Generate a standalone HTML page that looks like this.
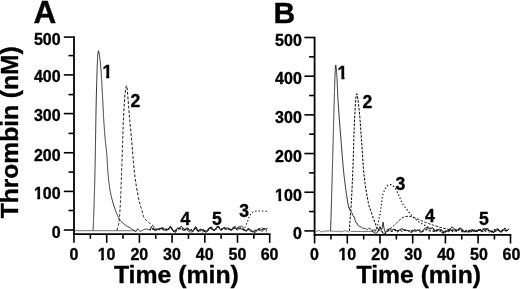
<!DOCTYPE html>
<html><head><meta charset="utf-8"><title>Thrombin generation</title>
<style>html,body{margin:0;padding:0;background:#fff}body{width:520px;height:289px;overflow:hidden}</style>
</head><body>
<svg width="520" height="289" viewBox="0 0 520 289" style="display:block">
<rect width="520" height="289" fill="#fff"/>
<text transform="translate(18.3,218.3) rotate(-90)" textLength="172" lengthAdjust="spacingAndGlyphs" style="font-family:'Liberation Sans',sans-serif;font-weight:bold;font-size:24.4px" stroke="#000" stroke-width="0.35" stroke-linejoin="round">Thrombin (nM)</text>
<g stroke="#000" stroke-width="1.8" fill="none">
<line x1="74.0" y1="36.30" x2="74.0" y2="235.04999999999998"/>
<line x1="73.1" y1="234.2" x2="270.50" y2="234.2"/>
</g>
<g stroke="#000" stroke-width="1.6" fill="none">
<line x1="63.80" y1="230.00" x2="74.0" y2="230.00"/>
<line x1="68.50" y1="210.50" x2="74.0" y2="210.50"/>
<line x1="63.80" y1="191.40" x2="74.0" y2="191.40"/>
<line x1="68.50" y1="172.10" x2="74.0" y2="172.10"/>
<line x1="63.80" y1="152.75" x2="74.0" y2="152.75"/>
<line x1="68.50" y1="133.40" x2="74.0" y2="133.40"/>
<line x1="63.80" y1="113.60" x2="74.0" y2="113.60"/>
<line x1="68.50" y1="94.60" x2="74.0" y2="94.60"/>
<line x1="63.80" y1="74.90" x2="74.0" y2="74.90"/>
<line x1="68.50" y1="55.60" x2="74.0" y2="55.60"/>
<line x1="63.80" y1="37.10" x2="74.0" y2="37.10"/>
<line x1="74.00" y1="234.2" x2="74.00" y2="242.79999999999998"/>
<line x1="90.35" y1="234.2" x2="90.35" y2="238.79999999999998"/>
<line x1="106.70" y1="234.2" x2="106.70" y2="242.79999999999998"/>
<line x1="123.05" y1="234.2" x2="123.05" y2="238.79999999999998"/>
<line x1="139.40" y1="234.2" x2="139.40" y2="242.79999999999998"/>
<line x1="155.75" y1="234.2" x2="155.75" y2="238.79999999999998"/>
<line x1="172.10" y1="234.2" x2="172.10" y2="242.79999999999998"/>
<line x1="188.45" y1="234.2" x2="188.45" y2="238.79999999999998"/>
<line x1="204.80" y1="234.2" x2="204.80" y2="242.79999999999998"/>
<line x1="221.15" y1="234.2" x2="221.15" y2="238.79999999999998"/>
<line x1="237.50" y1="234.2" x2="237.50" y2="242.79999999999998"/>
<line x1="253.85" y1="234.2" x2="253.85" y2="238.79999999999998"/>
<line x1="269.70" y1="234.2" x2="269.70" y2="242.79999999999998"/>
</g>
<g style="font-family:'Liberation Sans',sans-serif;font-weight:bold;font-size:16px" fill="#000" stroke="#000" stroke-width="0.35" stroke-linejoin="round">
<text x="60.60" y="237.75" text-anchor="end">0</text>
<clipPath id="c1"><path d="M30.90 181.55H81.90V202.15H42.75V197.07H40.13V200.15H37.34V197.07H30.90Z"/></clipPath>
<text x="60.60" y="199.15" text-anchor="end" clip-path="url(#c1)">100</text>
<text x="60.60" y="160.80" text-anchor="end">200</text>
<text x="60.60" y="121.35" text-anchor="end">300</text>
<text x="60.60" y="82.25" text-anchor="end">400</text>
<text x="60.60" y="44.85" text-anchor="end">500</text>
<text x="73.90" y="259.65" text-anchor="middle">0</text>
<clipPath id="c2"><path d="M94.70 242.05H145.70V262.65H106.55V257.57H103.93V260.65H101.14V257.57H94.70Z"/></clipPath>
<text x="106.60" y="259.65" text-anchor="middle" clip-path="url(#c2)">10</text>
<text x="139.30" y="259.65" text-anchor="middle">20</text>
<text x="172.00" y="259.65" text-anchor="middle">30</text>
<text x="204.70" y="259.65" text-anchor="middle">40</text>
<text x="237.40" y="259.65" text-anchor="middle">50</text>
<text x="269.60" y="259.65" text-anchor="middle">60</text>
</g>
<text x="33.4" y="22.75" style="font-family:'Liberation Sans',sans-serif;font-weight:bold;font-size:31.5px" stroke="#000" stroke-width="0.35" stroke-linejoin="round">A</text>
<text x="113.9" y="283.10" textLength="125" lengthAdjust="spacingAndGlyphs" style="font-family:'Liberation Sans',sans-serif;font-weight:bold;font-size:24px" stroke="#000" stroke-width="0.35" stroke-linejoin="round">Time (min)</text>
<polyline points="74.9,230.7 135.5,230.7" fill="none" stroke="#111" stroke-width="0.6" stroke-linejoin="round"/>
<polyline points="93.0,230.6 93.1,230.5 93.1,229.5 93.2,228.5 93.2,227.5 93.3,226.5 93.3,225.5 93.3,224.5 93.4,223.5 93.4,222.5 93.5,221.5 93.5,220.5 93.5,219.5 93.6,218.5 93.6,217.5 93.6,216.5 93.7,215.4 93.7,214.4 93.8,213.4 93.8,212.4 93.8,211.4 93.9,210.4 93.9,209.4 93.9,208.4 94.0,207.4 94.0,206.4 94.0,205.4 94.1,204.4 94.1,203.4 94.1,202.4 94.2,201.4 94.2,200.4 94.2,199.4 94.2,198.4 94.3,197.4 94.3,196.4 94.3,195.4 94.4,194.4 94.4,193.4 94.4,192.4 94.5,191.4 94.5,190.4 94.5,189.4 94.5,188.3 94.6,187.3 94.6,186.3 94.6,185.3 94.7,184.3 94.7,183.3 94.7,182.3 94.7,181.3 94.8,180.3 94.8,179.3 94.8,178.3 94.8,177.3 94.9,176.3 94.9,175.3 94.9,174.3 94.9,173.3 94.9,172.3 95.0,171.3 95.0,170.3 95.0,169.3 95.0,168.3 95.1,167.3 95.1,166.3 95.1,165.3 95.1,164.3 95.1,163.3 95.2,162.2 95.2,161.2 95.2,160.2 95.2,159.2 95.2,158.2 95.3,157.2 95.3,156.2 95.3,155.2 95.3,154.2 95.3,153.2 95.3,152.2 95.4,151.2 95.4,150.2 95.4,149.2 95.4,148.2 95.4,147.2 95.4,146.2 95.5,145.2 95.5,144.2 95.5,143.2 95.5,142.2 95.5,141.2 95.5,140.2 95.6,139.2 95.6,138.2 95.6,137.1 95.6,136.1 95.6,135.1 95.6,134.1 95.7,133.1 95.7,132.1 95.7,131.1 95.7,130.1 95.7,129.1 95.7,128.1 95.7,127.1 95.8,126.1 95.8,125.1 95.8,124.1 95.8,123.1 95.8,122.1 95.8,121.1 95.9,120.1 95.9,119.1 95.9,118.1 95.9,117.1 95.9,116.1 96.0,115.1 96.0,114.1 96.0,113.1 96.0,112.0 96.0,111.0 96.0,110.0 96.1,109.0 96.1,108.0 96.1,107.0 96.1,106.0 96.1,105.0 96.2,104.0 96.2,103.0 96.2,102.0 96.2,101.0 96.3,100.0 96.3,99.0 96.3,98.0 96.3,97.0 96.3,96.0 96.4,95.0 96.4,94.0 96.4,93.0 96.4,92.0 96.5,91.0 96.5,90.0 96.5,89.0 96.5,88.0 96.6,86.9 96.6,85.9 96.6,84.9 96.7,83.9 96.7,82.9 96.7,81.9 96.7,80.9 96.8,79.9 96.8,78.9 96.8,77.9 96.9,76.9 96.9,75.9 96.9,74.9 97.0,73.9 97.0,72.9 97.0,71.9 97.1,70.9 97.1,69.9 97.1,68.9 97.2,67.9 97.2,66.9 97.2,65.9 97.3,64.9 97.3,63.9 97.4,62.9 97.4,61.9 97.5,60.9 97.5,59.9 97.6,58.7 97.7,57.5 97.7,56.2 97.8,54.8 97.9,53.6 98.1,52.5 98.2,51.6 98.3,50.9 98.5,50.6 98.6,50.8 98.8,51.8 99.1,53.0 99.3,54.3 99.4,55.3 99.6,56.3 99.7,57.2 99.8,58.2 99.9,59.2 100.1,60.2 100.2,61.2 100.3,62.2 100.4,63.2 100.5,64.2 100.6,65.2 100.7,66.2 100.7,67.2 100.8,68.2 100.9,69.2 101.0,70.2 101.1,71.2 101.1,72.2 101.2,73.2 101.3,74.2 101.3,75.2 101.4,76.3 101.5,77.3 101.5,78.3 101.6,79.3 101.7,80.3 101.7,81.3 101.8,82.3 101.8,83.3 101.9,84.3 101.9,85.3 102.0,86.3 102.1,87.3 102.1,88.3 102.2,89.3 102.2,90.3 102.3,91.3 102.3,92.3 102.4,93.3 102.4,94.3 102.5,95.3 102.5,96.3 102.6,97.3 102.6,98.3 102.7,99.3 102.7,100.3 102.8,101.3 102.8,102.3 102.9,103.3 102.9,104.3 103.0,105.3 103.0,106.3 103.1,107.3 103.1,108.3 103.2,109.3 103.2,110.3 103.3,111.3 103.3,112.4 103.4,113.4 103.4,114.4 103.5,115.4 103.5,116.4 103.6,117.4 103.7,118.4 103.7,119.4 103.8,120.4 103.8,121.4 103.9,122.4 104.0,123.4 104.0,124.4 104.1,125.4 104.2,126.4 104.3,127.4 104.3,128.4 104.4,129.4 104.5,130.4 104.6,131.4 104.7,132.4 104.7,133.4 104.8,134.4 104.9,135.4 105.0,136.4 105.1,137.4 105.2,138.4 105.2,139.4 105.3,140.4 105.4,141.4 105.5,142.4 105.6,143.4 105.7,144.4 105.8,145.4 105.9,146.4 106.1,147.4 106.2,148.4 106.3,149.4 106.4,150.4 106.5,151.4 106.6,152.4 106.7,153.4 106.8,154.4 106.9,155.4 106.9,156.4 107.0,157.4 107.1,158.4 107.1,159.4 107.2,160.4 107.2,161.4 107.3,162.4 107.4,163.4 107.4,164.4 107.5,165.4 107.5,166.4 107.6,167.4 107.6,168.4 107.7,169.4 107.8,170.4 107.9,171.4 107.9,172.4 108.0,173.4 108.1,174.4 108.2,175.4 108.3,176.4 108.4,177.4 108.5,178.4 108.6,179.4 108.7,180.4 108.8,181.4 108.9,182.4 109.1,183.4 109.2,184.4 109.3,185.4 109.5,186.4 109.6,187.4 109.7,188.4 109.9,189.4 110.1,190.4 110.2,191.3 110.4,192.3 110.6,193.3 110.8,194.3 111.0,195.3 111.3,196.3 111.5,197.3 111.7,198.2 112.0,199.2 112.3,200.2 112.5,201.2 112.8,202.1 113.1,203.1 113.4,204.0 113.7,205.0 114.0,206.0 114.3,206.9 114.6,207.9 114.9,208.8 115.3,209.8 115.6,210.7 116.0,211.7 116.3,212.7 116.7,213.6 117.1,214.6 117.5,215.5 117.9,216.4 118.4,217.3 118.9,218.2 119.4,219.0 119.9,219.8 120.4,220.6 121.1,221.3 121.8,222.1 122.5,222.8 123.3,223.4 124.1,224.1 124.9,224.7 125.7,225.3 126.5,225.9 127.4,226.4 128.3,226.9 129.1,227.4 130.0,227.9 130.9,228.4 131.7,229.0 132.6,229.5 133.4,230.1 134.2,230.6 135.1,231.1 136.0,231.6 137.5,228.8 138.1,229.1 138.7,229.9 139.3,230.7 139.9,231.3 140.5,231.3 141.1,231.0 141.7,230.6 142.3,230.5 142.9,230.3 143.5,229.8 144.1,229.4 144.7,229.2 145.3,229.4 145.9,229.2 146.5,229.0 147.1,229.3 147.7,229.3 148.3,229.5 148.9,229.8 149.5,229.7 150.1,229.4 150.7,228.6 151.3,228.0 151.9,228.0 152.5,228.5 153.1,228.9 153.7,229.8 154.3,230.3 154.9,230.6 155.5,230.4 156.1,230.2 156.7,229.8 157.3,229.4 157.9,229.1 158.5,229.0 159.1,228.9 159.7,228.8 160.3,228.8 160.9,228.4 161.5,228.6 162.1,228.7 162.7,228.6 163.3,229.3 163.9,229.4 164.5,229.7 165.1,229.7 165.7,229.5 166.3,229.7 166.9,229.7 167.5,229.7 168.1,229.2 168.7,228.8 169.3,227.8 169.9,227.2 170.5,226.9 171.1,227.5 171.7,228.3 172.3,229.7 172.9,230.7 173.5,231.4 174.1,231.6 174.7,231.1 175.3,230.4 175.9,229.7 176.5,228.7 177.1,228.2 177.7,228.0 178.3,228.1 178.9,227.9 179.5,227.7 180.1,227.3 180.7,226.8 181.3,226.6 181.9,227.2 182.5,227.5 183.1,228.1 183.7,228.7 184.3,229.2 184.9,228.9 185.5,228.4 186.1,228.1 186.7,228.1 187.3,228.0 187.9,228.4 188.5,229.2 189.1,229.5 189.7,230.1 190.3,230.5 190.9,230.8 191.5,231.0 192.1,231.3 192.7,230.9 193.3,230.3 193.9,229.3 194.5,228.2 195.1,227.1 195.7,226.8 196.3,227.5 196.9,229.2 197.5,230.9 198.1,231.8 198.7,231.8 199.3,231.1 199.9,230.5 200.5,230.3 201.1,229.8 201.7,229.4 202.3,229.7 202.9,229.7 203.5,229.9 204.1,230.9 204.7,231.7 205.3,232.1 205.9,232.2 206.5,231.7 207.1,231.1 207.7,230.2 208.3,229.0 208.9,228.5 209.5,228.5 210.1,228.2 210.7,228.6 211.3,228.8 211.9,229.1 212.5,229.6 213.1,230.1 213.7,230.3 214.3,230.1 214.9,229.6 215.5,228.9 216.1,228.0 216.7,227.3 217.3,226.9 217.9,226.8 218.5,227.3 219.1,228.0 219.7,228.9 220.3,229.9 220.9,230.1 221.5,230.0 222.1,229.6 222.7,228.9 223.3,228.3 223.9,227.7 224.5,227.5 225.1,228.1 225.7,228.2 226.3,228.0 226.9,228.2 227.5,228.0 228.1,227.9 228.7,228.3 229.3,228.7 229.9,229.3 230.5,229.3 231.1,229.4 231.7,229.3 232.3,229.1 232.9,228.7 233.5,228.5 234.1,228.4 234.7,228.2 235.3,228.1 235.9,228.4 236.5,228.8 237.1,228.9 237.7,228.6 238.3,227.8 238.9,227.4 239.5,226.7 240.1,226.1 240.7,226.2 241.3,226.4 241.9,226.2 242.5,227.0 243.1,227.8 243.7,228.9 244.3,229.8 244.9,230.5 245.5,230.9 246.1,231.2 246.7,230.9 247.3,230.1 247.9,229.6 248.5,229.7 249.1,229.0 249.7,229.1 250.3,229.5 250.9,229.9 251.5,230.3 252.1,230.7 252.7,231.0 253.3,231.7 253.9,232.1 254.5,232.6 255.1,232.3 255.7,231.6 256.3,231.0 256.9,230.6 257.5,229.6 258.1,228.7 258.7,228.5 259.3,228.5 259.9,229.0 260.5,229.6 261.1,230.7 261.7,231.2 262.3,231.1 262.9,230.8 263.5,230.3 264.1,229.5 264.7,228.8 265.3,228.5 265.9,228.9 266.5,229.0 267.1,228.7 267.7,227.8" fill="none" stroke="#111" stroke-width="0.85" stroke-linejoin="round"/>
<polyline points="117.0,230.3 117.2,229.3 117.5,228.3 117.7,227.4 118.0,226.4 118.2,225.4 118.5,224.4 118.7,223.4 118.9,222.5 119.0,221.5 119.2,220.5 119.2,219.5 119.3,218.5 119.4,217.5 119.5,216.5 119.6,215.5 119.7,214.5 119.7,213.5 119.8,212.5 119.9,211.5 120.0,210.5 120.0,209.5 120.1,208.5 120.1,207.5 120.2,206.5 120.3,205.5 120.3,204.5 120.4,203.5 120.4,202.5 120.5,201.5 120.5,200.5 120.6,199.5 120.6,198.5 120.6,197.5 120.7,196.5 120.7,195.5 120.8,194.5 120.8,193.5 120.8,192.5 120.9,191.4 120.9,190.4 121.0,189.4 121.0,188.4 121.0,187.4 121.1,186.4 121.1,185.4 121.1,184.4 121.2,183.4 121.2,182.4 121.2,181.4 121.3,180.4 121.3,179.4 121.4,178.3 121.4,177.3 121.4,176.3 121.5,175.3 121.5,174.3 121.5,173.3 121.6,172.3 121.6,171.3 121.7,170.3 121.7,169.3 121.7,168.3 121.8,167.3 121.8,166.3 121.9,165.3 121.9,164.3 121.9,163.3 122.0,162.3 122.0,161.3 122.0,160.3 122.1,159.3 122.1,158.3 122.1,157.3 122.2,156.2 122.2,155.2 122.2,154.2 122.3,153.2 122.3,152.2 122.3,151.2 122.4,150.2 122.4,149.2 122.4,148.2 122.5,147.2 122.5,146.2 122.5,145.2 122.6,144.2 122.6,143.2 122.6,142.2 122.6,141.2 122.7,140.2 122.7,139.2 122.7,138.2 122.8,137.2 122.8,136.2 122.8,135.2 122.9,134.2 122.9,133.1 122.9,132.1 123.0,131.1 123.0,130.1 123.1,129.1 123.1,128.1 123.1,127.1 123.2,126.1 123.2,125.1 123.2,124.1 123.3,123.1 123.3,122.1 123.4,121.1 123.4,120.1 123.5,119.1 123.5,118.1 123.5,117.1 123.6,116.1 123.6,115.1 123.7,114.1 123.7,113.1 123.8,112.1 123.9,111.1 123.9,110.1 124.0,109.1 124.0,108.1 124.1,107.1 124.2,106.0 124.2,105.0 124.3,104.0 124.4,103.0 124.4,102.0 124.5,101.0 124.6,100.0 124.7,99.0 124.8,98.0 124.8,97.0 124.9,96.0 125.0,95.0 125.1,94.0 125.2,93.0 125.3,92.0 125.4,91.0 125.6,90.0 125.7,89.0 125.9,87.9 126.1,86.6 126.4,85.7 126.6,85.7 126.8,86.6 127.0,87.8 127.2,89.0 127.3,90.0 127.4,91.0 127.5,92.0 127.6,93.0 127.7,94.0 127.7,95.0 127.8,96.0 127.9,97.0 128.0,98.0 128.0,99.0 128.1,100.0 128.2,101.0 128.3,102.0 128.3,103.1 128.4,104.1 128.5,105.1 128.6,106.1 128.7,107.1 128.7,108.1 128.8,109.1 128.9,110.1 129.0,111.1 129.1,112.1 129.2,113.1 129.2,114.1 129.3,115.1 129.4,116.1 129.5,117.1 129.6,118.1 129.7,119.1 129.8,120.1 129.8,121.1 129.9,122.1 130.0,123.1 130.1,124.1 130.2,125.1 130.3,126.1 130.4,127.1 130.5,128.1 130.6,129.1 130.7,130.1 130.8,131.1 130.9,132.1 131.0,133.1 131.1,134.1 131.2,135.1 131.2,136.1 131.3,137.1 131.4,138.1 131.5,139.1 131.6,140.1 131.7,141.1 131.8,142.1 131.9,143.1 132.0,144.1 132.0,145.1 132.1,146.1 132.2,147.1 132.3,148.1 132.4,149.1 132.4,150.1 132.5,151.1 132.6,152.1 132.7,153.1 132.8,154.1 132.8,155.1 132.9,156.1 133.0,157.1 133.1,158.1 133.2,159.1 133.3,160.1 133.3,161.1 133.4,162.1 133.5,163.1 133.6,164.1 133.7,165.1 133.8,166.1 133.9,167.1 134.0,168.1 134.1,169.1 134.2,170.1 134.3,171.1 134.4,172.1 134.5,173.1 134.6,174.1 134.8,175.1 134.9,176.1 135.0,177.1 135.2,178.1 135.3,179.1 135.4,180.1 135.6,181.1 135.7,182.1 135.9,183.1 136.0,184.1 136.2,185.1 136.3,186.1 136.5,187.0 136.7,188.0 136.8,189.0 137.0,190.0 137.2,191.0 137.4,192.0 137.5,193.0 137.7,194.0 137.9,195.0 138.1,195.9 138.3,196.9 138.5,197.9 138.7,198.9 138.9,199.9 139.2,200.9 139.4,201.8 139.6,202.8 139.9,203.8 140.1,204.8 140.4,205.7 140.7,206.7 141.1,207.6 141.4,208.6 141.7,209.5 142.0,210.5 142.3,211.5 142.5,212.5 142.7,213.5 143.0,214.5 143.2,215.4 143.5,216.4 143.9,217.2 144.4,218.0 145.0,218.8 145.7,219.6 146.4,220.4 147.2,221.1 147.9,221.8 148.7,222.4 149.5,223.1 150.3,223.6 151.2,224.2 152.0,224.7 152.8,225.3 153.5,226.0 154.2,226.7 154.9,227.5 155.5,228.3 156.5,229.2 157.1,229.6 157.7,230.0 158.3,230.0 158.9,230.4 159.5,229.9 160.1,228.8 160.7,227.9 161.3,227.1 161.9,227.0 162.5,227.6 163.1,228.2 163.7,229.0 164.3,229.6 164.9,230.1 165.5,230.1 166.1,230.1 166.7,229.7 167.3,229.4 167.9,228.8 168.5,228.4 169.1,227.5 169.7,227.0 170.3,226.8 170.9,227.0 171.5,228.1 172.1,229.4 172.7,230.2 173.3,231.1 173.9,231.7 174.5,232.1 175.1,231.8 175.7,231.4 176.3,230.6 176.9,229.8 177.5,229.2 178.1,228.8 178.7,228.8 179.3,228.6 179.9,228.7 180.5,228.9 181.1,229.3 181.7,229.3 182.3,229.7 182.9,230.1 183.5,230.5 184.1,230.3 184.7,230.2 185.3,229.4 185.9,229.4 186.5,229.1 187.1,228.8 187.7,229.1 188.3,229.3 188.9,229.1 189.5,229.1 190.1,229.3 190.7,229.4 191.3,229.8 191.9,230.4 192.5,231.1 193.1,231.2 193.7,230.8 194.3,229.9 194.9,229.0 195.5,228.0 196.1,228.0 196.7,228.7 197.3,230.3 197.9,230.9 198.5,231.0 199.1,230.2 199.7,229.5 200.3,229.3 200.9,229.4 201.5,229.7 202.1,230.4 202.7,231.2 203.3,231.2 203.9,231.1 204.5,230.8 205.1,230.5 205.7,230.6 206.3,230.4 206.9,230.2 207.5,229.8 208.1,229.0 208.7,228.3 209.3,227.6 209.9,226.8 210.5,226.8 211.1,226.6 211.7,227.2 212.3,228.0 212.9,229.2 213.5,230.2 214.1,230.8 214.7,230.6 215.3,229.8 215.9,228.7 216.5,227.6 217.1,227.1 217.7,226.9 218.3,227.0 218.9,227.4 219.5,228.4 220.1,228.9 220.7,229.4 221.3,229.7 221.9,229.2 222.5,229.0 223.1,228.4 223.7,228.3 224.3,227.9 224.9,228.3 225.5,228.3 226.1,228.3 226.7,228.6 227.3,228.6 227.9,228.6 228.5,228.7 229.1,229.0 229.7,229.1 230.3,229.1 230.9,229.0 231.5,228.6 232.1,228.3 232.7,227.9 233.3,227.3 233.9,227.0 234.5,226.9 235.1,227.3 235.7,228.2 236.3,229.0 236.9,230.0 237.5,230.4 238.1,230.4 238.7,229.5 239.3,228.9 239.9,228.4 240.5,228.3 241.1,228.5 241.7,228.8 242.3,229.2 242.9,229.4 243.5,229.9 244.1,229.9 244.7,230.3 245.3,230.2 245.9,230.2 246.5,229.6 247.1,229.4 247.7,229.0 248.3,229.0 248.9,229.2 249.5,229.8 250.1,230.6 250.7,231.3 251.3,231.5 251.9,231.3 252.5,230.9 253.1,230.6 253.7,230.3 254.3,229.9 254.9,230.2 255.5,230.2 256.1,230.3 256.7,230.6 257.3,230.7 257.9,230.5 258.5,230.1 259.1,229.6 259.7,228.8 260.3,228.0 260.9,227.8 261.5,227.6 262.1,227.6 262.7,228.2 263.3,228.4 263.9,228.9 264.5,229.1 265.1,229.2 265.7,229.7 266.3,230.3 266.9,230.1" fill="none" stroke="#111" stroke-width="1.0" stroke-dasharray="2.8 1.8" stroke-linejoin="round"/>
<polyline points="150.0,230.4 150.6,229.4 151.2,229.2 151.8,228.7 152.4,228.7 153.0,228.9 153.6,229.0 154.2,229.5 154.8,229.5 155.4,229.9 156.0,229.5 156.6,229.2 157.2,229.1 157.8,229.0 158.4,228.9 159.0,228.9 159.6,229.0 160.2,228.9 160.8,229.0 161.4,228.9 162.0,228.9 162.6,229.1 163.2,229.0 163.8,228.9 164.4,229.1 165.0,229.4 165.6,229.8 166.2,229.9 166.8,230.2 167.4,230.5 168.0,230.1 168.6,229.6 169.2,228.9 169.8,228.2 170.4,227.8 171.0,228.2 171.6,228.6 172.2,229.9 172.8,230.6 173.4,231.1 174.0,231.5 174.6,231.5 175.2,231.0 175.8,230.4 176.4,229.8 177.0,229.2 177.6,228.9 178.2,228.6 178.8,228.6 179.4,228.8 180.0,228.7 180.6,228.6 181.2,228.8 181.8,229.1 182.4,229.3 183.0,229.6 183.6,230.0 184.2,229.9 184.8,230.1 185.4,229.7 186.0,229.1 186.6,228.9 187.2,228.7 187.8,229.0 188.4,228.9 189.0,229.3 189.6,229.7 190.2,229.8 190.8,229.5 191.4,229.5 192.0,229.5 192.6,229.3 193.2,229.6 193.8,229.3 194.4,229.4 195.0,229.0 195.6,229.1 196.2,229.3 196.8,229.9 197.4,230.5 198.0,231.1 198.6,230.7 199.2,230.2 199.8,229.7 200.4,229.4 201.0,229.2 201.6,229.3 202.2,229.5 202.8,229.9 203.4,229.7 204.0,229.9 204.6,230.1 205.2,230.5 205.8,231.0 206.4,231.3 207.0,231.4 207.6,231.3 208.2,230.8 208.8,229.8 209.4,228.7 210.0,227.9 210.6,227.5 211.2,227.6 211.8,228.2 212.4,228.7 213.0,229.5 213.6,230.0 214.2,230.3 214.8,230.1 215.4,229.9 216.0,229.3 216.6,228.9 217.2,228.1 217.8,227.8 218.4,227.4 219.0,227.3 219.6,227.2 220.2,227.9 220.8,228.3 221.4,228.3 222.0,228.6 222.6,228.7 223.2,228.8 223.8,228.9 224.4,229.3 225.0,229.3 225.6,229.6 226.2,229.5 226.8,229.5 227.4,229.1 228.0,229.0 228.6,228.8 229.2,229.2 229.8,229.5 230.4,230.1 231.0,230.1 231.6,229.7 232.2,229.1 232.8,228.6 233.4,228.1 234.0,227.9 234.6,228.2 235.2,228.7 235.8,228.9 236.4,229.2 237.0,229.1 237.6,228.8 238.2,228.6 238.8,228.3 239.4,228.3 240.0,228.7 240.6,229.2 241.2,229.6 241.8,229.6 242.4,229.8 243.0,229.8 244.6,228.3 245.0,227.3 245.4,226.4 245.8,225.4 246.3,224.5 246.7,223.5 247.1,222.5 247.5,221.6 247.9,220.6 248.2,219.6 248.6,218.5 249.0,217.5 249.4,216.6 249.8,215.6 250.3,214.8 250.9,214.0 251.7,213.1 252.5,212.3 253.4,211.6 254.3,211.2 255.2,211.1 256.2,211.1 257.3,211.0 258.3,211.0 259.4,211.0 260.5,211.0 261.5,211.0 262.6,211.0 263.6,211.1 264.7,211.1 265.7,211.2 266.8,211.2 267.8,211.3" fill="none" stroke="#111" stroke-width="1.05" stroke-dasharray="1.4 2.0" stroke-linejoin="round"/>
<polyline points="150.0,229.5 150.6,228.4 151.2,227.1 151.8,226.0 152.4,226.1 153.0,226.7 153.6,227.9 154.2,229.0 154.8,229.9 155.4,229.9 156.0,230.1 156.6,229.6 157.2,229.1 157.8,229.2 158.4,229.2 159.0,228.9 159.6,228.9 160.2,228.4 160.8,228.1 161.4,227.9 162.0,228.0 162.6,228.2 163.2,228.3 163.8,228.2 164.4,228.4 165.0,228.2 165.6,228.3 166.2,228.5 166.8,228.9 167.4,229.2 168.0,229.2 168.6,228.9 169.2,228.2 169.8,227.6 170.4,227.3 171.0,227.3 171.6,228.1 172.2,229.0 172.8,230.2 173.4,230.5 174.0,230.9 174.6,231.2 175.2,231.0 175.8,230.3 176.4,229.7 177.0,228.8 177.6,228.3 178.2,228.3 178.8,228.6 179.4,228.8 180.0,228.6 180.6,228.5 181.2,228.3 181.8,228.4 182.4,228.5 183.0,228.9 183.6,229.2 184.2,229.6 184.8,229.6 185.4,229.7 186.0,229.9 186.6,230.0 187.2,230.4 187.8,230.7 188.4,231.3 189.0,231.5 189.6,231.9 190.2,232.2 190.8,232.1 191.4,232.3 192.0,232.3 192.6,231.8 193.2,230.9 193.8,229.9 194.4,228.7 195.0,227.7 195.6,226.9 196.2,227.2 196.8,228.2 197.4,229.5 198.0,230.5 198.6,230.5 199.2,230.5 199.8,230.7 200.4,231.0 201.0,231.6 201.6,231.9 202.2,232.2 202.8,232.0 203.4,231.6 204.0,231.5 204.6,231.5 205.2,231.9 205.8,232.1 206.4,232.3 207.0,232.0 207.6,231.3 208.2,230.2 208.8,229.0 209.4,228.0 210.0,227.9 210.6,227.9 211.2,228.4 211.8,229.0 212.4,229.6 213.0,230.2 213.6,230.7 214.2,230.5 214.8,229.8 215.4,228.7 216.0,227.6 216.6,226.8 217.2,226.4 217.8,226.2 218.4,226.4 219.0,227.1 219.6,228.3 220.2,228.8 220.8,229.8 221.4,230.0 222.0,229.5 222.6,229.1 223.2,228.3 223.8,227.8 224.4,227.7 225.0,227.8 225.6,228.7 226.2,229.1 226.8,229.2 227.4,229.1 228.0,229.1 228.6,229.3 229.2,229.4 229.8,229.8 230.4,230.1 231.0,230.2 231.6,230.0 232.2,229.6 232.8,229.0 233.4,228.0 234.0,227.1 234.6,226.9 235.2,227.0 235.8,227.5 236.4,228.3 237.0,228.8 237.6,227.9 238.2,227.2 238.8,226.4 239.4,226.3 240.0,227.2 240.6,228.5 241.2,229.0 241.8,229.0 242.4,229.0 243.0,228.5 243.6,228.6 244.2,229.2 244.8,229.9 245.4,230.7 246.0,231.0 246.6,230.9 247.2,230.5 247.8,230.0 248.4,229.7 249.0,229.7 249.6,230.1 250.2,230.7 250.8,231.5 251.4,231.5 252.0,231.7 252.6,231.8 253.2,231.3 253.8,231.6 254.4,231.1 255.0,230.9 255.6,230.8 256.2,230.4 256.8,230.0 257.4,229.6 258.0,229.6 258.6,229.7 259.2,230.1 259.8,230.1 260.4,230.2 261.0,229.8 261.6,229.3 262.2,229.4 262.8,228.9 263.4,228.7 264.0,228.6 264.6,228.8 265.2,228.7 265.8,229.4 266.4,229.9 267.0,229.8" fill="none" stroke="#111" stroke-width="0.8" stroke-dasharray="4 1.2" stroke-linejoin="round"/>
<polyline points="152.0,229.7 152.6,229.5 153.2,229.4 153.8,229.7 154.4,229.7 155.0,229.7 155.6,230.2 156.2,230.0 156.8,229.6 157.4,229.5 158.0,229.2 158.6,229.0 159.2,228.8 159.8,228.5 160.4,228.3 161.0,228.6 161.6,228.8 162.2,229.2 162.8,229.5 163.4,229.9 164.0,230.6 164.6,230.6 165.2,230.9 165.8,230.8 166.4,230.8 167.0,230.6 167.6,230.3 168.2,229.6 168.8,228.6 169.4,227.5 170.0,227.0 170.6,226.5 171.2,226.9 171.8,227.7 172.4,229.0 173.0,230.3 173.6,231.0 174.2,231.8 174.8,232.2 175.4,232.5 176.0,232.0 176.6,231.3 177.2,230.7 177.8,230.4 178.4,229.7 179.0,229.1 179.6,228.6 180.2,227.5 180.8,226.7 181.4,226.3 182.0,226.8 182.6,227.5 183.2,228.3 183.8,229.1 184.4,230.0 185.0,230.4 185.6,230.1 186.2,229.4 186.8,229.2 187.4,229.2 188.0,229.4 188.6,229.8 189.2,230.2 189.8,230.6 190.4,230.9 191.0,231.1 191.6,231.3 192.2,231.4 192.8,231.6 193.4,231.2 194.0,230.4 194.6,229.4 195.2,228.5 195.8,228.1 196.4,228.7 197.0,229.7 197.6,230.7 198.2,230.8 198.8,230.8 199.4,230.4 200.0,230.0 200.6,229.8 201.2,229.8 201.8,230.0 202.4,230.3 203.0,230.1 203.6,230.4 204.2,230.3 204.8,230.7 205.4,230.7 206.0,231.0 206.6,230.9 207.2,230.5 207.8,229.5 208.4,228.8 209.0,228.1 209.6,228.0 210.2,228.0 210.8,228.3 211.4,228.8 212.0,229.0 212.6,229.4 213.2,229.7 213.8,229.8 214.4,229.6 215.0,229.3 215.6,228.6 216.2,228.3 216.8,227.6 217.4,227.4 218.0,227.1 218.6,227.4 219.2,228.0 219.8,229.0 220.4,229.6 221.0,230.1 221.6,229.7 222.2,229.4 222.8,228.4 223.4,227.6 224.0,227.3 224.6,227.7 225.2,228.2 225.8,229.0 226.4,229.4 227.0,229.8 227.6,229.9 228.2,229.5 228.8,229.4 229.4,229.3 230.0,229.2 230.6,229.6 231.2,230.0 231.8,229.8 232.4,230.0 233.0,229.2 233.6,228.3 234.2,227.3 234.8,226.4 235.4,226.2 236.0,226.8 236.6,227.2 237.2,227.9 237.8,228.1 238.4,228.2 239.0,228.4 239.6,228.3 240.2,228.4 240.8,228.6 241.4,229.2 242.0,229.4 242.6,229.4 243.2,229.9 243.8,230.0 244.4,230.3 245.0,230.5 245.6,230.6 246.2,230.4 246.8,230.0 247.4,229.7 248.0,229.0 248.6,228.5 249.2,228.7 249.8,229.1 250.4,229.9 251.0,230.8 251.6,231.0 252.2,231.1 252.8,231.2 253.4,231.6 254.0,231.7 254.6,232.0 255.2,232.0 255.8,231.8 256.4,231.3 257.0,230.7 257.6,230.5 258.2,230.4 258.8,230.4 259.4,230.5 260.0,230.3 260.6,230.3 261.2,230.1 261.8,229.7 262.4,229.5 263.0,229.0 263.6,229.2 264.2,228.8 264.8,229.8 265.4,230.5 266.0,231.5 266.6,232.3 267.2,231.9" fill="none" stroke="#111" stroke-width="0.75" stroke-dasharray="5 1.5 1.2 1.5" stroke-linejoin="round"/>
<g style="font-family:'Liberation Sans',sans-serif;font-weight:bold;font-size:17.6px" fill="#000" stroke="#000" stroke-width="0.35" stroke-linejoin="round">
<clipPath id="c3"><path d="M99.40 58.84H155.20V81.20H112.14V75.95H109.22V79.20H106.21V75.95H99.40Z"/></clipPath>
<text x="102.4" y="78.2" clip-path="url(#c3)">1</text>
<text x="130.6" y="107.3">2</text>
<text x="239.2" y="216.8">3</text>
<text x="180.6" y="224.8">4</text>
<text x="212.0" y="224.8">5</text>
</g>
<g stroke="#000" stroke-width="1.8" fill="none">
<line x1="314.6" y1="36.70" x2="314.6" y2="235.75"/>
<line x1="313.70000000000005" y1="234.9" x2="511.30" y2="234.9"/>
</g>
<g stroke="#000" stroke-width="1.6" fill="none">
<line x1="304.40" y1="230.90" x2="314.6" y2="230.90"/>
<line x1="309.10" y1="211.56" x2="314.6" y2="211.56"/>
<line x1="304.40" y1="192.22" x2="314.6" y2="192.22"/>
<line x1="309.10" y1="172.88" x2="314.6" y2="172.88"/>
<line x1="304.40" y1="153.54" x2="314.6" y2="153.54"/>
<line x1="309.10" y1="134.20" x2="314.6" y2="134.20"/>
<line x1="304.40" y1="114.86" x2="314.6" y2="114.86"/>
<line x1="309.10" y1="95.52" x2="314.6" y2="95.52"/>
<line x1="304.40" y1="76.18" x2="314.6" y2="76.18"/>
<line x1="309.10" y1="56.84" x2="314.6" y2="56.84"/>
<line x1="304.40" y1="37.50" x2="314.6" y2="37.50"/>
<line x1="314.60" y1="234.9" x2="314.60" y2="243.5"/>
<line x1="330.95" y1="234.9" x2="330.95" y2="239.5"/>
<line x1="347.30" y1="234.9" x2="347.30" y2="243.5"/>
<line x1="363.65" y1="234.9" x2="363.65" y2="239.5"/>
<line x1="380.00" y1="234.9" x2="380.00" y2="243.5"/>
<line x1="396.35" y1="234.9" x2="396.35" y2="239.5"/>
<line x1="412.70" y1="234.9" x2="412.70" y2="243.5"/>
<line x1="429.05" y1="234.9" x2="429.05" y2="239.5"/>
<line x1="445.40" y1="234.9" x2="445.40" y2="243.5"/>
<line x1="461.75" y1="234.9" x2="461.75" y2="239.5"/>
<line x1="478.10" y1="234.9" x2="478.10" y2="243.5"/>
<line x1="494.45" y1="234.9" x2="494.45" y2="239.5"/>
<line x1="510.50" y1="234.9" x2="510.50" y2="243.5"/>
</g>
<g style="font-family:'Liberation Sans',sans-serif;font-weight:bold;font-size:16px" fill="#000" stroke="#000" stroke-width="0.35" stroke-linejoin="round">
<text x="301.80" y="239.15" text-anchor="end">0</text>
<clipPath id="c4"><path d="M272.10 183.17H323.10V203.77H283.95V198.69H281.33V201.77H278.54V198.69H272.10Z"/></clipPath>
<text x="301.80" y="200.77" text-anchor="end" clip-path="url(#c4)">100</text>
<text x="301.80" y="161.79" text-anchor="end">200</text>
<text x="301.80" y="122.71" text-anchor="end">300</text>
<text x="301.80" y="83.93" text-anchor="end">400</text>
<text x="301.80" y="46.45" text-anchor="end">500</text>
<text x="314.50" y="260.2" text-anchor="middle">0</text>
<clipPath id="c5"><path d="M335.48 242.60H386.48V263.20H347.33V258.12H344.71V261.20H341.92V258.12H335.48Z"/></clipPath>
<text x="347.38" y="260.2" text-anchor="middle" clip-path="url(#c5)">10</text>
<text x="380.27" y="260.2" text-anchor="middle">20</text>
<text x="413.15" y="260.2" text-anchor="middle">30</text>
<text x="446.03" y="260.2" text-anchor="middle">40</text>
<text x="478.92" y="260.2" text-anchor="middle">50</text>
<text x="511.50" y="260.2" text-anchor="middle">60</text>
</g>
<text x="273.5" y="22.75" style="font-family:'Liberation Sans',sans-serif;font-weight:bold;font-size:30px" stroke="#000" stroke-width="0.35" stroke-linejoin="round">B</text>
<text x="356.6" y="283.30" textLength="124.4" lengthAdjust="spacingAndGlyphs" style="font-family:'Liberation Sans',sans-serif;font-weight:bold;font-size:24px" stroke="#000" stroke-width="0.35" stroke-linejoin="round">Time (min)</text>
<polyline points="372.0,230.1 372.6,230.2 373.2,230.1 373.8,230.1 374.4,229.9 375.0,230.1 375.6,230.0 376.2,229.9 376.8,230.0 377.4,229.9 378.0,229.8 378.6,229.7 379.2,229.5 379.8,229.4 380.4,229.7 381.0,230.5 381.6,231.2 382.2,232.0 382.8,232.9 383.4,233.5 384.0,233.8 384.6,233.6 385.2,232.7 385.8,231.8 386.4,230.7 387.0,229.8 387.6,229.1 388.2,229.1 388.8,229.5 389.4,229.7 390.0,230.3 390.6,230.9 391.2,231.1 391.8,231.1 392.4,230.8 393.0,230.1 393.6,229.4 394.2,229.5 394.8,229.5 395.4,229.8 396.0,230.2 396.6,230.6 397.2,230.5 397.8,230.7 398.4,230.2 399.0,230.1 399.6,229.8 400.2,229.5 400.8,229.4 401.4,229.3 402.0,229.1 402.6,229.2 403.2,229.5 403.8,229.9 404.4,230.2 405.0,230.3 405.6,230.4 406.2,230.6 406.8,230.4 407.4,230.2 408.0,230.5 408.6,230.8 409.2,230.9 409.8,230.8 410.4,230.8 411.0,230.5 411.6,230.4 412.2,230.3 412.8,230.3 413.4,230.4 414.0,230.4 414.6,230.1 415.2,229.9 415.8,229.6 416.4,229.5 417.0,229.6 417.6,229.8 418.2,230.4 418.8,230.8 419.4,231.5 420.0,232.0 420.6,232.4 421.2,232.3 421.8,231.8 422.4,231.1 423.0,229.9 423.6,229.3 424.2,228.8 424.8,228.6 425.4,228.2 426.0,228.3 426.6,228.0 427.2,228.2 427.8,227.8 428.4,227.9 429.0,227.9 429.6,228.2 430.2,228.3 430.8,228.2 431.4,228.0 432.0,227.8 432.6,227.9 433.2,228.5 433.8,230.0 434.4,231.0 435.0,231.4 435.6,231.1 436.2,230.3 436.8,229.5 437.4,229.2 438.0,229.1 438.6,229.8 439.2,230.2 439.8,230.7 440.4,230.4 441.0,230.1 441.6,229.9 442.2,230.2 442.8,230.9 443.4,231.6 444.0,232.5 444.6,233.3 445.2,233.1 445.8,232.5 446.4,232.0 447.0,231.3 447.6,230.7 448.2,230.8 448.8,230.7 449.4,229.7 450.0,228.7 450.6,227.7 451.2,227.2 451.8,226.8 452.4,227.6 453.0,228.4 453.6,229.2 454.2,229.6 454.8,229.7 455.4,229.8 456.0,229.8 456.6,230.0 457.2,229.5 457.8,229.5 458.4,229.1 459.0,228.4 459.6,228.3 460.2,228.1 460.8,228.0 461.4,228.7 462.0,229.6 462.6,230.3 463.2,230.8 463.8,231.3 464.4,231.4 465.0,231.1 465.6,230.7 466.2,230.4 466.8,230.0 467.4,229.8 468.0,230.1 468.6,230.9 469.2,231.4 469.8,231.8 470.4,231.8 471.0,231.6 471.6,231.2 472.2,230.5 472.8,230.7 473.4,230.5 474.0,230.7 474.6,231.1 475.2,231.2 475.8,231.2 476.4,231.0 477.0,230.6 477.6,230.2 478.2,229.6 478.8,229.8 479.4,229.9 480.0,230.7 480.6,231.1 481.2,231.3 481.8,230.5 482.4,229.9 483.0,229.5 483.6,229.3 484.2,229.1 484.8,229.3 485.4,229.3 486.0,229.2 486.6,229.4 487.2,229.7 487.8,230.1 488.4,231.3 489.0,232.4 489.6,232.3 490.2,232.1 490.8,231.6 491.4,231.1 492.0,231.1 492.6,231.6 493.2,232.3 493.8,232.1 494.4,231.9 495.0,231.2 495.6,230.3 496.2,229.7 496.8,229.3 497.4,229.5 498.0,229.6 498.6,229.9 499.2,230.6 499.8,231.4 500.4,231.8 501.0,232.1 501.6,232.1 502.2,231.6 502.8,230.6 503.4,230.0 504.0,229.2 504.6,229.6 505.2,229.9 505.8,230.3 506.4,230.4 507.0,230.5 507.6,230.3 508.2,229.8 508.8,229.4" fill="none" stroke="#111" stroke-width="0.8" stroke-dasharray="5 1.5 1.2 1.5" stroke-linejoin="round"/>
<polyline points="330.6,231.0 330.6,230.0 330.7,229.0 330.7,228.0 330.7,227.0 330.7,226.0 330.8,225.0 330.8,224.0 330.8,223.0 330.9,222.0 330.9,220.9 330.9,219.9 331.0,218.9 331.0,217.9 331.0,216.9 331.0,215.9 331.1,214.9 331.1,213.9 331.1,212.9 331.2,211.9 331.2,210.9 331.2,209.9 331.2,208.9 331.3,207.9 331.3,206.9 331.3,205.9 331.4,204.9 331.4,203.9 331.4,202.9 331.4,201.9 331.5,200.8 331.5,199.8 331.5,198.8 331.6,197.8 331.6,196.8 331.6,195.8 331.6,194.8 331.7,193.8 331.7,192.8 331.7,191.8 331.8,190.8 331.8,189.8 331.8,188.8 331.9,187.8 331.9,186.8 331.9,185.8 331.9,184.8 332.0,183.8 332.0,182.8 332.0,181.7 332.1,180.7 332.1,179.7 332.1,178.7 332.1,177.7 332.2,176.7 332.2,175.7 332.2,174.7 332.3,173.7 332.3,172.7 332.3,171.7 332.3,170.7 332.4,169.7 332.4,168.7 332.4,167.7 332.4,166.7 332.5,165.7 332.5,164.7 332.5,163.7 332.6,162.7 332.6,161.6 332.6,160.6 332.6,159.6 332.7,158.6 332.7,157.6 332.7,156.6 332.7,155.6 332.8,154.6 332.8,153.6 332.8,152.6 332.8,151.6 332.9,150.6 332.9,149.6 332.9,148.6 333.0,147.6 333.0,146.6 333.0,145.6 333.0,144.6 333.1,143.6 333.1,142.5 333.1,141.5 333.1,140.5 333.2,139.5 333.2,138.5 333.2,137.5 333.2,136.5 333.3,135.5 333.3,134.5 333.3,133.5 333.3,132.5 333.4,131.5 333.4,130.5 333.4,129.5 333.5,128.5 333.5,127.5 333.5,126.5 333.5,125.5 333.6,124.5 333.6,123.4 333.6,122.4 333.6,121.4 333.7,120.4 333.7,119.4 333.7,118.4 333.8,117.4 333.8,116.4 333.8,115.4 333.8,114.4 333.9,113.4 333.9,112.4 333.9,111.4 333.9,110.4 334.0,109.4 334.0,108.4 334.0,107.4 334.1,106.4 334.1,105.4 334.1,104.3 334.2,103.3 334.2,102.3 334.2,101.3 334.2,100.3 334.3,99.3 334.3,98.3 334.3,97.3 334.4,96.3 334.4,95.3 334.4,94.3 334.4,93.3 334.5,92.3 334.5,91.3 334.5,90.3 334.6,89.3 334.6,88.3 334.6,87.3 334.6,86.3 334.7,85.2 334.7,84.2 334.7,83.2 334.8,82.2 334.8,81.2 334.8,80.2 334.9,79.2 334.9,78.2 335.0,77.2 335.0,76.2 335.0,75.2 335.1,74.2 335.1,73.1 335.2,71.9 335.3,70.6 335.3,69.3 335.4,68.0 335.5,66.8 335.6,65.9 335.7,65.3 335.7,65.0 335.8,65.1 335.9,65.7 336.0,66.5 336.2,67.6 336.3,68.8 336.4,70.1 336.5,71.4 336.6,72.7 336.7,73.8 336.8,74.8 336.8,75.8 336.9,76.8 336.9,77.8 337.0,78.8 337.1,79.8 337.1,80.9 337.2,81.9 337.2,82.9 337.3,83.9 337.3,84.9 337.3,85.9 337.4,86.9 337.4,87.9 337.5,88.9 337.5,89.9 337.6,90.9 337.6,91.9 337.6,92.9 337.7,93.9 337.7,94.9 337.8,95.9 337.8,96.9 337.9,97.9 337.9,98.9 338.0,99.9 338.1,100.9 338.1,101.9 338.2,103.0 338.2,104.0 338.3,105.0 338.4,106.0 338.4,107.0 338.5,108.0 338.6,109.0 338.7,110.0 338.7,111.0 338.8,112.0 338.9,113.0 338.9,114.0 339.0,115.0 339.1,116.0 339.2,117.0 339.2,118.0 339.3,119.0 339.4,120.0 339.5,121.0 339.6,122.0 339.6,123.0 339.7,124.0 339.8,125.0 339.9,126.0 340.0,127.0 340.0,128.0 340.1,129.0 340.2,130.0 340.3,131.0 340.4,132.0 340.4,133.0 340.5,134.0 340.6,135.0 340.7,136.0 340.8,137.0 340.8,138.0 340.9,139.0 341.0,140.1 341.1,141.1 341.2,142.1 341.2,143.1 341.3,144.1 341.4,145.1 341.5,146.1 341.6,147.1 341.6,148.1 341.7,149.1 341.8,150.1 341.9,151.1 342.0,152.1 342.0,153.1 342.1,154.1 342.2,155.1 342.3,156.1 342.4,157.1 342.4,158.1 342.5,159.1 342.6,160.1 342.7,161.1 342.8,162.1 342.9,163.1 343.0,164.1 343.0,165.1 343.1,166.1 343.2,167.1 343.3,168.1 343.4,169.1 343.5,170.1 343.6,171.1 343.7,172.1 343.8,173.1 343.9,174.1 344.0,175.1 344.1,176.1 344.2,177.1 344.4,178.1 344.5,179.1 344.6,180.1 344.7,181.1 344.8,182.1 345.0,183.1 345.1,184.1 345.2,185.1 345.3,186.1 345.5,187.1 345.6,188.1 345.7,189.1 345.9,190.1 346.0,191.1 346.1,192.1 346.3,193.1 346.4,194.1 346.6,195.1 346.7,196.1 346.9,197.1 347.0,198.0 347.2,199.0 347.3,200.0 347.5,201.0 347.7,202.0 347.8,203.0 348.0,204.0 348.6,206.7 349.0,208.2 349.4,207.7 349.8,210.2 350.2,210.4 350.7,210.9 351.2,211.9 351.7,212.6 352.3,213.9 352.8,215.3 353.4,216.1 353.9,217.0 354.3,216.9 354.7,217.9 355.1,220.3 355.5,221.0 356.0,222.5 356.5,223.0 357.0,223.0 357.5,225.0 358.1,225.5 358.8,226.0 359.6,226.1 360.6,226.9 361.6,227.3 362.6,228.1 363.6,228.0 364.6,229.0 365.6,228.3 366.5,229.2 367.5,229.6 368.5,228.6 369.4,228.0 370.5,229.2 371.5,230.2 373.0,232.0 375.0,233.3 377.0,232.8 378.3,230.5 379.2,228.0 380.0,226.5 380.8,228.5 381.6,229.5 382.4,227.5 383.1,222.1 383.8,227.0 384.5,230.5 385.3,232.0 386.3,232.0 387.5,230.8 388.5,229.2 389.1,229.1 389.7,228.7 390.3,229.2 390.9,229.6 391.5,229.9 392.1,229.8 392.7,229.6 393.3,229.3 393.9,229.3 394.5,229.5 395.1,229.7 395.7,230.1 396.3,230.5 396.9,230.7 397.5,231.0 398.1,231.0 398.7,230.7 399.3,230.0 399.9,229.7 400.5,229.0 401.1,228.8 401.7,228.8 402.3,229.0 402.9,229.0 403.5,229.3 404.1,229.9 404.7,230.1 405.3,230.5 405.9,230.4 406.5,230.3 407.1,230.3 407.7,230.5 408.3,230.7 408.9,231.2 409.5,231.5 410.1,232.0 410.7,232.3 411.3,232.6 411.9,232.4 412.5,231.7 413.1,231.0 413.7,230.0 414.3,229.7 414.9,229.8 415.5,230.2 416.1,230.3 416.7,230.7 417.3,230.7 417.9,230.3 418.5,230.3 419.1,230.3 419.7,230.5 420.3,231.1 420.9,231.5 421.5,231.8 422.1,231.8 422.7,231.3 423.3,230.3 423.9,229.6 424.5,228.9 425.1,228.1 425.7,227.7 426.3,227.7 426.9,227.5 427.5,228.0 428.1,228.0 428.7,228.5 429.3,228.8 429.9,228.9 430.5,228.8 431.1,228.6 431.7,228.1 432.3,227.9 432.9,227.9 433.5,228.9 434.1,229.8 434.7,230.6 435.3,230.7 435.9,230.6 436.5,229.8 437.1,229.6 437.7,229.7 438.3,229.8 438.9,230.3 439.5,231.0 440.1,231.2 440.7,231.2 441.3,230.9 441.9,230.9 442.5,231.1 443.1,231.5 443.7,231.7 444.3,232.4 444.9,232.1 445.5,231.8 446.1,231.5 446.7,231.3 447.3,231.4 447.9,231.7 448.5,231.8 449.1,231.5 449.7,230.8 450.3,230.0 450.9,228.4 451.5,227.6 452.1,227.4 452.7,227.4 453.3,227.6 453.9,228.2 454.5,228.8 455.1,229.4 455.7,230.5 456.3,231.2 456.9,231.3 457.5,230.7 458.1,230.1 458.7,229.1 459.3,228.6 459.9,228.1 460.5,228.2 461.1,228.6 461.7,229.7 462.3,230.7 462.9,231.5 463.5,231.8 464.1,231.9 464.7,231.9 465.3,231.5 465.9,231.3 466.5,231.3 467.1,231.6 467.7,232.1 468.3,232.3 468.9,232.2 469.5,231.6 470.1,231.2 470.7,230.4 471.3,230.2 471.9,230.4 472.5,230.8 473.1,230.8 473.7,230.7 474.3,230.6 474.9,230.3 475.5,230.4 476.1,230.7 476.7,231.1 477.3,230.9 477.9,230.8 478.5,229.9 479.1,229.7 479.7,230.2 480.3,230.4 480.9,231.0 481.5,230.9 482.1,230.2 482.7,229.3 483.3,228.7 483.9,228.5 484.5,228.4 485.1,228.2 485.7,228.6 486.3,228.6 486.9,228.8 487.5,229.0 488.1,229.5 488.7,230.2 489.3,230.9 489.9,231.3 490.5,231.5 491.1,231.0 491.7,230.8 492.3,230.9 492.9,231.0 493.5,231.5 494.1,231.7 494.7,231.8 495.3,231.5 495.9,231.2 496.5,230.9 497.1,230.5 497.7,230.5 498.3,230.5 498.9,230.7 499.5,231.3 500.1,231.4 500.7,231.9 501.3,231.9 501.9,231.2 502.5,230.5 503.1,229.8 503.7,229.6 504.3,229.7 504.9,230.3 505.5,231.0 506.1,231.2 506.7,231.0 507.3,230.7 507.9,230.1 508.5,229.3 509.1,229.1" fill="none" stroke="#111" stroke-width="0.85" stroke-linejoin="round"/>
<polyline points="350.5,231.4 373.5,231.4" fill="none" stroke="#111" stroke-width="0.6" stroke-linejoin="round"/>
<polyline points="315.5,231.7 316.1,231.5 316.7,231.3 317.3,231.0 317.9,230.7 318.5,230.6 319.1,230.6 319.7,230.9 320.3,231.3 320.9,231.7 321.5,231.9 322.1,231.9 322.7,231.7 323.3,231.5 323.9,231.2 324.5,231.1 325.1,230.9 325.7,231.0 326.3,231.0 326.9,231.0 327.5,231.0 328.1,231.0 328.7,231.0 329.3,231.0 329.9,231.1 330.5,231.1 331.1,231.2 331.7,231.1 332.3,231.2 332.9,231.1 333.5,231.1 334.1,231.2 334.7,231.3 335.3,231.4 335.9,231.4 336.5,231.4 337.1,231.3 337.7,231.1 338.3,231.1 338.9,231.2 339.5,231.4 340.1,231.6 340.7,231.7 341.3,231.8 341.9,231.7 342.5,231.5 343.1,231.2 343.7,230.9 344.3,230.8 344.9,230.7 345.5,230.8 346.1,231.0 346.7,231.2 347.3,231.4 347.9,231.6 348.5,231.8 349.1,231.8" fill="none" stroke="#111" stroke-width="0.6" stroke-linejoin="round"/>
<polyline points="349.4,231.0 349.5,230.0 349.5,229.0 349.6,228.0 349.6,227.0 349.7,226.0 349.7,225.0 349.8,224.0 349.9,223.0 349.9,222.0 350.0,221.0 350.1,220.0 350.1,219.0 350.2,218.0 350.3,217.0 350.3,216.0 350.4,215.0 350.5,214.0 350.6,213.0 350.6,212.0 350.7,211.0 350.8,210.0 350.9,209.0 351.0,208.0 351.0,207.0 351.1,206.0 351.2,205.0 351.3,203.9 351.3,202.9 351.4,201.9 351.4,200.9 351.5,199.9 351.5,198.9 351.6,197.9 351.6,196.9 351.7,195.9 351.7,194.9 351.8,193.9 351.8,192.9 351.9,191.9 351.9,190.9 352.0,189.9 352.0,188.9 352.1,187.9 352.1,186.9 352.2,185.9 352.2,184.9 352.2,183.9 352.3,182.9 352.3,181.9 352.4,180.9 352.4,179.9 352.5,178.9 352.5,177.9 352.5,176.9 352.6,175.9 352.6,174.9 352.7,173.9 352.7,172.9 352.8,171.8 352.8,170.8 352.8,169.8 352.9,168.8 352.9,167.8 353.0,166.8 353.0,165.8 353.0,164.8 353.1,163.8 353.1,162.8 353.1,161.8 353.2,160.8 353.2,159.8 353.3,158.8 353.3,157.8 353.3,156.8 353.3,155.8 353.4,154.8 353.4,153.8 353.4,152.8 353.5,151.8 353.5,150.7 353.5,149.7 353.6,148.7 353.6,147.7 353.6,146.7 353.6,145.7 353.7,144.7 353.7,143.7 353.7,142.7 353.8,141.7 353.8,140.7 353.8,139.7 353.9,138.7 353.9,137.7 353.9,136.7 353.9,135.7 354.0,134.7 354.0,133.6 354.0,132.6 354.1,131.6 354.1,130.6 354.1,129.6 354.2,128.6 354.2,127.6 354.3,126.6 354.3,125.6 354.3,124.6 354.4,123.6 354.4,122.6 354.5,121.6 354.5,120.6 354.6,119.6 354.6,118.6 354.6,117.6 354.7,116.6 354.7,115.6 354.8,114.6 354.9,113.6 354.9,112.6 355.0,111.6 355.0,110.6 355.1,109.6 355.1,108.6 355.2,107.6 355.3,106.6 355.3,105.6 355.4,104.6 355.5,103.6 355.6,102.6 355.6,101.6 355.7,100.6 355.8,99.6 355.9,98.4 356.0,97.1 356.2,95.8 356.4,94.7 356.6,94.0 356.8,93.8 357.0,94.2 357.2,95.0 357.4,96.1 357.6,97.4 357.8,98.7 358.0,99.8 358.1,100.8 358.2,101.8 358.4,102.8 358.5,103.8 358.6,104.8 358.7,105.8 358.8,106.8 358.9,107.8 359.0,108.8 359.1,109.8 359.2,110.8 359.3,111.8 359.4,112.8 359.5,113.8 359.6,114.8 359.7,115.8 359.8,116.8 359.9,117.8 359.9,118.8 360.0,119.8 360.1,120.8 360.2,121.8 360.2,122.8 360.3,123.8 360.4,124.8 360.5,125.8 360.5,126.8 360.6,127.8 360.7,128.8 360.8,129.8 360.8,130.8 360.9,131.8 361.0,132.8 361.0,133.8 361.1,134.8 361.2,135.8 361.3,136.9 361.3,137.9 361.4,138.9 361.5,139.9 361.6,140.9 361.6,141.9 361.7,142.9 361.8,143.9 361.9,144.9 361.9,145.9 362.0,146.9 362.1,147.9 362.1,148.9 362.2,149.9 362.2,150.9 362.3,151.9 362.4,152.9 362.4,153.9 362.5,154.9 362.6,155.9 362.6,156.9 362.7,157.9 362.8,158.9 362.8,159.9 362.9,160.9 363.0,161.9 363.0,162.9 363.1,163.9 363.2,164.9 363.2,165.9 363.3,166.9 363.4,167.9 363.5,168.9 363.6,169.9 363.7,170.9 363.7,171.9 363.8,172.9 363.9,173.9 364.0,174.9 364.1,175.9 364.3,176.9 364.4,177.9 364.5,178.9 364.6,179.9 364.7,180.9 364.9,181.9 365.0,182.9 365.1,183.9 365.3,184.9 365.4,185.9 365.6,186.9 365.7,187.9 365.9,188.8 366.0,189.8 366.2,190.8 366.3,191.8 366.5,192.8 366.7,193.8 366.9,194.8 367.0,195.8 367.2,196.8 367.4,197.8 367.6,198.7 367.8,199.7 367.9,200.7 368.1,201.7 368.3,202.7 368.5,203.7 368.8,204.7 369.0,205.6 369.3,206.6 369.6,207.5 369.9,208.5 370.3,209.4 370.6,210.4 370.9,211.3 371.3,212.3 371.6,213.2 371.9,214.2 372.2,215.1 372.6,216.1 372.9,217.0 373.2,218.0 373.6,218.9 373.9,219.9 374.3,220.8 374.6,221.8 375.0,222.7 375.3,223.6 375.7,224.6 376.1,225.5 376.5,226.4 376.9,227.3 377.3,228.2 377.8,229.1 378.3,230.0 378.8,230.9 380.0,227.6 380.6,228.5 381.2,229.7 381.8,231.0 382.4,232.0 383.0,233.0 383.6,233.4 384.2,233.8 384.8,233.7 385.4,233.3 386.0,232.6 386.6,231.9 387.2,231.4 387.8,231.1 388.4,230.6 389.0,230.7 389.6,230.7 390.2,231.0 390.8,231.1 391.4,231.4 392.0,231.4 392.6,231.0 393.2,230.3 393.8,230.1 394.4,229.9 395.0,230.1 395.6,230.7 396.2,231.4 396.8,231.6 397.4,232.0 398.0,231.4 398.6,230.8 399.2,230.5 399.8,230.3 400.4,230.1 401.0,230.7 401.6,231.2 402.2,231.3 402.8,231.2 403.4,230.9 404.0,230.7 404.6,230.1 405.2,229.9 405.8,229.9 406.4,230.2 407.0,230.4 407.6,230.6 408.2,230.7 408.8,230.5 409.4,230.6 410.0,230.6 410.6,230.9 411.2,231.0 411.8,231.2 412.4,231.7 413.0,231.6 413.6,231.7 414.2,231.7 414.8,231.3 415.4,231.0 416.0,230.9 416.6,230.7 417.2,230.8 417.8,230.5 418.4,230.5 419.0,230.1 419.6,230.1 420.2,230.2 420.8,230.6 421.4,231.0 422.0,231.4 422.6,231.2 423.2,231.1 423.8,230.9 424.4,230.3 425.0,230.0 425.6,229.8 426.2,229.6 426.8,229.7 427.4,229.8 428.0,230.5 428.6,230.5 429.2,230.8 429.8,230.8 430.4,231.0 431.0,230.9 431.6,230.9 432.2,230.8 432.8,231.0 433.4,231.2 434.0,231.4 434.6,231.4 435.2,231.4 435.8,231.2 436.4,230.7 437.0,230.3 437.6,229.9 438.2,229.3 438.8,229.0 439.4,228.9 440.0,229.4 440.6,229.8 441.2,230.9 441.8,232.0 442.4,232.9 443.0,233.3 443.6,233.0 444.2,232.7 444.8,231.8 445.4,230.9 446.0,230.6 446.6,230.6 447.2,230.7 447.8,230.6 448.4,230.7 449.0,230.3 449.6,230.0 450.2,230.0 450.8,230.1 451.4,230.4 452.0,231.0 452.6,231.7 453.2,231.8 453.8,231.8 454.4,231.4 455.0,231.1 455.6,230.9 456.2,230.9 456.8,231.0 457.4,230.8 458.0,230.7 458.6,230.1 459.2,229.6 459.8,229.3 460.4,229.3 461.0,229.8 461.6,230.4 462.2,231.2 462.8,231.7 463.4,231.7 464.0,231.6 464.6,231.5 465.2,231.1 465.8,230.7 466.4,230.8 467.0,231.0 467.6,231.0 468.2,231.2 468.8,231.0 469.4,230.9 470.0,230.4 470.6,229.9 471.2,229.7 471.8,229.5 472.4,229.7 473.0,230.3 473.6,230.4 474.2,231.1 474.8,231.2 475.4,231.4 476.0,231.4 476.6,230.8 477.2,230.2 477.8,230.0 478.4,229.5 479.0,229.6 479.6,230.1 480.2,230.6 480.8,231.4 481.4,231.7 482.0,231.6 482.6,231.3 483.2,231.0 483.8,230.9 484.4,230.2 485.0,230.1 485.6,229.9 486.2,229.6 486.8,229.9 487.4,230.0 488.0,230.2 488.6,230.5 489.2,230.7 489.8,230.8 490.4,230.7 491.0,230.9 491.6,231.3 492.2,231.7 492.8,232.0 493.4,232.4 494.0,232.2 494.6,231.5 495.2,230.6 495.8,229.8 496.4,229.4 497.0,229.5 497.6,229.8 498.2,230.4 498.8,230.6 499.4,230.9 500.0,231.1 500.6,231.0 501.2,231.2 501.8,231.0 502.4,230.7 503.0,230.4 503.6,230.3 504.2,230.1 504.8,230.5 505.4,230.8 506.0,230.5 506.6,230.3 507.2,230.0 507.8,229.4 508.4,228.9" fill="none" stroke="#111" stroke-width="1.05" stroke-dasharray="2.5 1.4" stroke-linejoin="round"/>
<polyline points="374.8,231.5 375.2,230.6 375.7,229.7 376.1,228.7 376.5,227.8 376.9,226.9 377.2,225.9 377.6,225.0 377.9,224.0 378.2,223.0 378.4,222.1 378.6,221.1 378.8,220.1 379.0,219.1 379.2,218.1 379.4,217.1 379.6,216.1 379.8,215.1 380.0,214.1 380.1,213.1 380.3,212.1 380.5,211.1 380.6,210.1 380.8,209.1 380.9,208.1 381.0,207.1 381.2,206.1 381.3,205.1 381.5,204.1 381.6,203.0 381.7,202.0 381.8,201.0 382.0,200.0 382.1,199.0 382.2,198.0 382.4,197.0 382.6,196.0 382.8,195.0 383.0,194.1 383.3,193.1 383.7,192.1 384.1,191.2 384.5,190.2 384.9,189.3 385.4,188.4 385.9,187.5 386.5,186.6 387.2,185.9 387.9,185.3 388.9,184.8 389.8,184.5 390.8,184.6 391.7,185.1 392.6,185.7 393.4,186.3 394.1,187.0 394.8,187.8 395.4,188.6 395.9,189.5 396.5,190.4 397.0,191.2 397.4,192.1 397.9,193.1 398.3,194.0 398.7,194.9 399.1,195.9 399.5,196.8 399.9,197.7 400.3,198.7 400.7,199.6 401.1,200.5 401.5,201.5 402.0,202.4 402.4,203.3 402.9,204.2 403.4,205.0 404.0,205.8 404.6,206.6 405.3,207.4 405.9,208.2 406.5,209.0 407.2,209.8 407.8,210.7 408.4,211.5 409.0,212.3 409.6,213.1 410.3,213.9 410.9,214.6 411.6,215.4 412.3,216.1 413.0,216.8 413.7,217.5 414.5,218.3 415.2,218.9 416.0,219.6 416.8,220.3 417.6,220.9 418.4,221.5 419.2,222.1 420.0,222.6 420.9,223.1 421.8,223.7 422.6,224.2 423.5,224.7 424.4,225.1 425.3,225.6 426.3,226.1 427.2,226.5 428.1,227.0 429.0,227.4 429.9,227.9 430.8,228.3 431.7,228.7 432.7,229.1 433.6,229.5 434.6,229.9 435.5,230.2 436.5,231.0 437.1,230.9 437.7,230.8 438.3,230.8 438.9,230.7 439.5,230.7 440.1,230.9 440.7,231.0 441.3,231.2 441.9,231.6 442.5,232.0 443.1,232.4 443.7,232.6 444.3,232.7 444.9,232.3 445.5,231.8 446.1,231.5 446.7,231.0 447.3,230.9 447.9,230.9 448.5,230.8 449.1,230.8 449.7,230.7 450.3,230.8 450.9,230.7 451.5,230.5 452.1,230.6 452.7,230.6 453.3,230.5 453.9,230.3 454.5,230.1 455.1,230.0 455.7,230.2 456.3,230.3 456.9,230.3 457.5,230.4 458.1,230.1 458.7,229.8 459.3,229.7 459.9,229.7 460.5,230.0 461.1,230.6 461.7,231.3 462.3,231.7 462.9,231.9 463.5,232.1 464.1,231.9 464.7,231.5 465.3,231.3 465.9,230.9 466.5,230.6 467.1,230.8 467.7,231.0 468.3,231.4 468.9,231.9 469.5,231.9 470.1,232.0 470.7,231.9 471.3,231.6 471.9,231.2 472.5,230.8 473.1,230.3 473.7,230.0 474.3,230.1 474.9,230.1 475.5,230.4 476.1,230.9 476.7,231.1 477.3,231.1 477.9,231.0 478.5,230.7 479.1,230.2 479.7,229.9 480.3,229.6 480.9,229.1 481.5,228.7 482.1,228.6 482.7,228.7 483.3,229.6 483.9,230.4 484.5,231.0 485.1,231.2 485.7,231.1 486.3,230.8 486.9,230.4 487.5,230.4 488.1,230.4 488.7,230.5 489.3,230.9 489.9,231.4 490.5,231.6 491.1,231.8 491.7,231.9 492.3,231.7 492.9,231.3 493.5,230.7 494.1,230.1 494.7,229.5 495.3,229.1 495.9,228.7 496.5,228.5 497.1,228.7 497.7,229.0 498.3,229.5 498.9,230.2 499.5,230.9 500.1,231.3 500.7,231.8 501.3,231.7 501.9,231.5 502.5,230.7 503.1,230.0 503.7,229.0 504.3,228.6 504.9,228.5 505.5,228.7 506.1,229.4 506.7,229.8 507.3,230.3 507.9,230.4" fill="none" stroke="#111" stroke-width="1.15" stroke-dasharray="1.4 2.0" stroke-linejoin="round"/>
<polyline points="390.0,229.0 390.8,228.3 391.6,227.7 392.4,227.0 393.1,226.3 393.9,225.6 394.6,224.9 395.3,224.2 396.1,223.5 396.8,222.7 397.6,222.0 398.3,221.3 399.1,220.6 399.9,219.9 400.6,219.1 401.4,218.5 402.3,217.9 403.1,217.4 404.0,217.0 405.0,216.7 406.0,216.5 407.0,216.3 408.1,216.3 409.1,216.3 410.1,216.4 411.1,216.7 412.1,216.9 413.1,217.2 414.1,217.6 415.0,217.9 416.0,218.3 416.9,218.7 417.9,219.1 418.8,219.5 419.8,219.9 420.7,220.3 421.6,220.8 422.6,221.2 423.5,221.6 424.5,222.0 425.4,222.4 426.4,222.8 427.3,223.2 428.3,223.5 429.3,223.8 430.2,224.2 431.2,224.5 432.2,224.8 433.2,225.2 434.1,225.5 435.1,225.8 436.1,226.1 437.1,226.4 438.1,226.7 439.1,227.0 440.1,227.2 441.0,227.5 442.0,227.8 443.0,228.0 444.0,228.3 445.0,228.6 446.0,228.8 447.0,229.1 448.0,229.3 449.0,229.6 450.0,229.8 451.0,230.1 452.0,230.3 453.0,229.7 453.6,230.0 454.2,230.2 454.8,230.1 455.4,230.2 456.0,230.2 456.6,230.2 457.2,230.0 457.8,229.7 458.4,229.1 459.0,229.0 459.6,228.5 460.2,228.4 460.8,228.3 461.4,228.5 462.0,229.0 462.6,229.6 463.2,230.1 463.8,230.8 464.4,231.6 465.0,231.9 465.6,231.9 466.2,231.8 466.8,231.4 467.4,230.9 468.0,230.8 468.6,230.7 469.2,230.5 469.8,230.3 470.4,230.3 471.0,230.3 471.6,230.4 472.2,230.6 472.8,231.0 473.4,231.3 474.0,231.2 474.6,231.1 475.2,230.9 475.8,230.7 476.4,230.6 477.0,230.6 477.6,230.5 478.2,230.4 478.8,230.0 479.4,230.0 480.0,230.1 480.6,230.2 481.2,230.6 481.8,230.9 482.4,231.0 483.0,231.2 483.6,231.1 484.2,230.8 484.8,230.4 485.4,230.1 486.0,229.5 486.6,229.2 487.2,228.9 487.8,228.7 488.4,229.2 489.0,229.6 489.6,230.4 490.2,230.9 490.8,231.4 491.4,231.6 492.0,231.5 492.6,231.5 493.2,231.4 493.8,231.3 494.4,231.2 495.0,231.1 495.6,230.7 496.2,230.3 496.8,230.1 497.4,229.8 498.0,229.8 498.6,229.6 499.2,230.1 499.8,230.5 500.4,230.8 501.0,230.9 501.6,230.9 502.2,230.1 502.8,229.3 503.4,228.7 504.0,228.2 504.6,228.4 505.2,228.6 505.8,229.2 506.4,229.8" fill="none" stroke="#111" stroke-width="1.0" stroke-dasharray="2.6 1.4" stroke-linejoin="round"/>
<g style="font-family:'Liberation Sans',sans-serif;font-weight:bold;font-size:17.6px" fill="#000" stroke="#000" stroke-width="0.35" stroke-linejoin="round">
<clipPath id="c6"><path d="M334.60 59.74H390.40V82.10H347.34V76.85H344.42V80.10H341.41V76.85H334.60Z"/></clipPath>
<text x="337.6" y="79.1" clip-path="url(#c6)">1</text>
<text x="362.5" y="108.2">2</text>
<text x="395.6" y="190.2">3</text>
<text x="424.9" y="222.0">4</text>
<text x="479.0" y="225.3">5</text>
</g>
</svg>
</body></html>
